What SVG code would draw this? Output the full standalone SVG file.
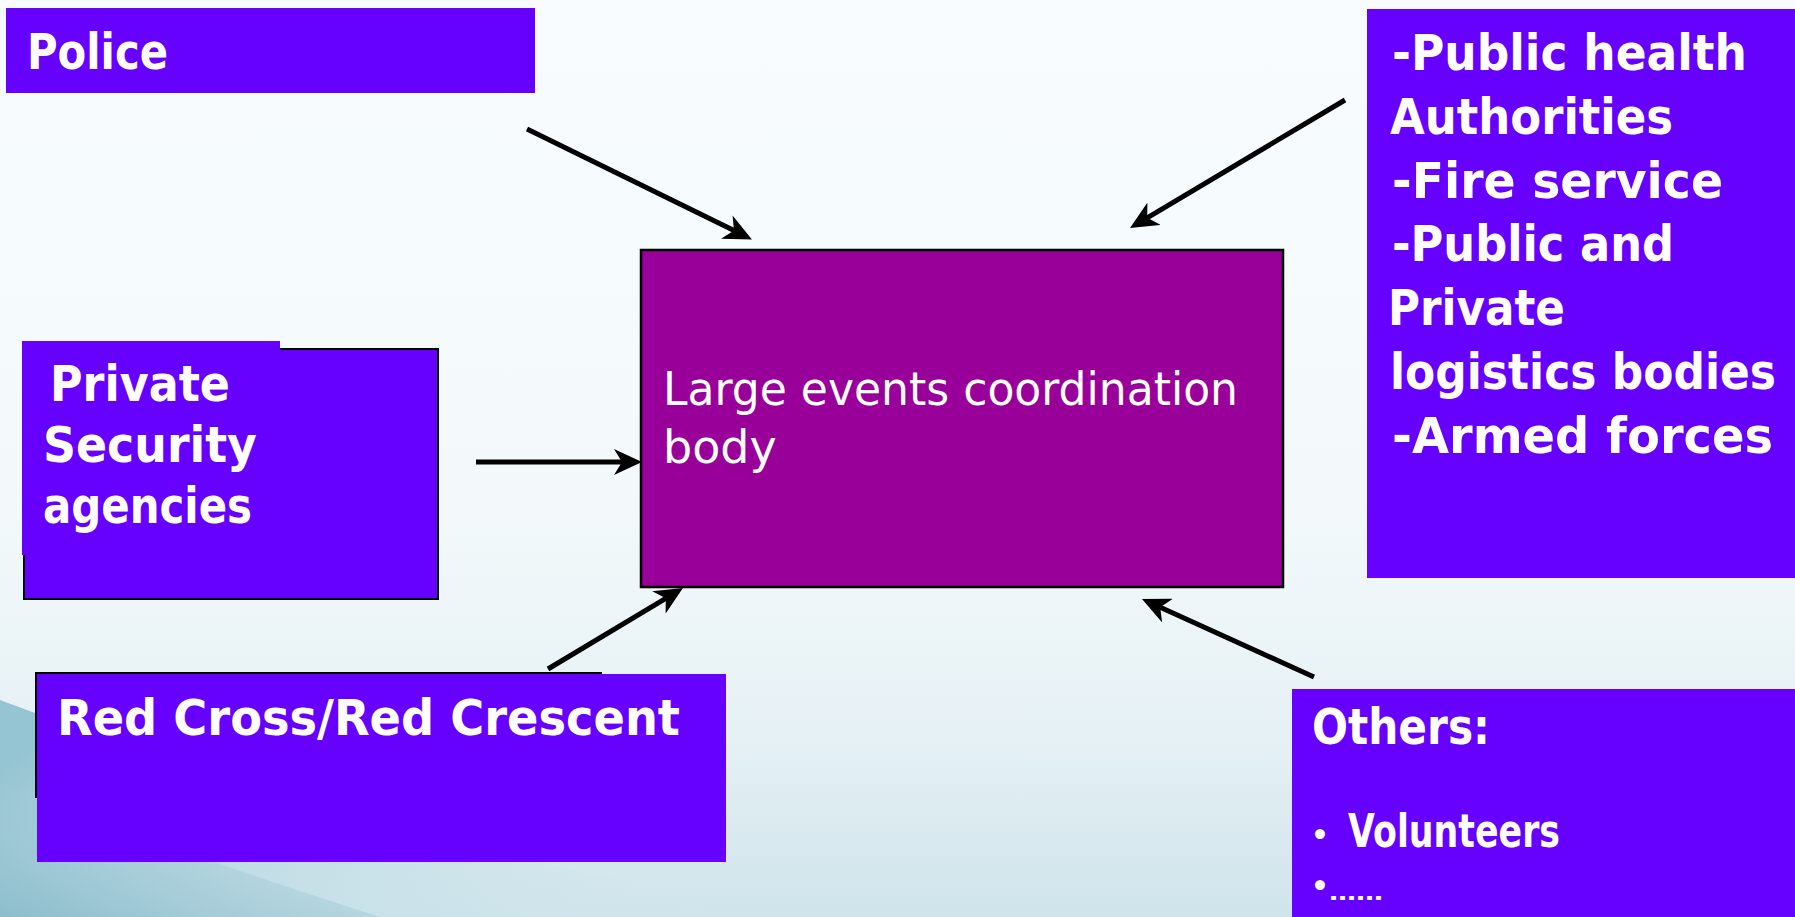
<svg xmlns="http://www.w3.org/2000/svg" width="1795" height="917" viewBox="0 0 1795 917">
  <defs>
    <linearGradient id="bg" x1="0" y1="0" x2="0" y2="1">
      <stop offset="0" stop-color="#F8FCFE"/>
      <stop offset="0.55" stop-color="#F3F9FB"/>
      <stop offset="0.8" stop-color="#E6F1F5"/>
      <stop offset="1" stop-color="#CFE4EB"/>
    </linearGradient>
    <linearGradient id="swoosh" x1="0" y1="0.3" x2="1" y2="0.7">
      <stop offset="0" stop-color="#8CBFCE" stop-opacity="0.9"/>
      <stop offset="0.5" stop-color="#B8D8E2" stop-opacity="0.5"/>
      <stop offset="1" stop-color="#D6E9EF" stop-opacity="0"/>
    </linearGradient>
    <linearGradient id="swoosh2" x1="0" y1="1" x2="0.7" y2="0">
      <stop offset="0" stop-color="#7EB4C5" stop-opacity="0.7"/>
      <stop offset="1" stop-color="#A9CFDA" stop-opacity="0"/>
    </linearGradient>
    <marker id="arrow" markerUnits="userSpaceOnUse" viewBox="0 0 28 26" refX="8" refY="13" markerWidth="28" markerHeight="26" orient="auto">
      <path d="M0,0 L28,13 L0,26 L8,13 Z" fill="#000"/>
    </marker>
  </defs>
  <style>
    .box { fill: #6600FF; }
    .bordered { fill: #6600FF; stroke: #000; stroke-width: 2; }
    .center { fill: #990099; stroke: #000; stroke-width: 2.5; }
    .lbl { font-family: "Comic Sans MS", "DejaVu Sans", sans-serif; font-weight: 700; font-size: 49px; fill: #FFFFFF; }
    .clbl { font-family: "Comic Sans MS", "DejaVu Sans", sans-serif; font-weight: 400; font-size: 46px; fill: #FFFFFF; }
    .conn { stroke: #000; stroke-width: 5; fill: none; marker-end: url(#arrow); }
  </style>

  <rect x="0" y="0" width="1795" height="917" fill="url(#bg)"/>
  <path d="M0,700 C240,790 520,870 820,917 L0,917 Z" fill="url(#swoosh)"/>
  <path d="M0,790 C150,840 280,885 380,917 L0,917 Z" fill="url(#swoosh2)"/>

  <g id="police">
    <rect class="box" x="6" y="8" width="529" height="85"/>
    <text class="lbl" x="27" y="69" textLength="141" lengthAdjust="spacingAndGlyphs">Police</text>
  </g>

  <g id="private-security">
    <rect class="bordered" x="24" y="349" width="414" height="250"/>
    <rect class="box" x="22" y="341" width="258" height="214"/>
    <text class="lbl" x="50" y="401" textLength="180" lengthAdjust="spacingAndGlyphs">Private</text>
    <text class="lbl" x="43" y="462" textLength="214" lengthAdjust="spacingAndGlyphs">Security</text>
    <text class="lbl" x="43" y="523" textLength="209" lengthAdjust="spacingAndGlyphs">agencies</text>
  </g>

  <g id="red-cross">
    <rect class="bordered" x="36" y="673" width="565" height="124"/>
    <rect class="box" x="37" y="674" width="689" height="188"/>
    <text class="lbl" x="57" y="735" textLength="623" lengthAdjust="spacingAndGlyphs">Red Cross/Red Crescent</text>
  </g>

  <g id="coordination-body">
    <rect class="center" x="641" y="250" width="642" height="337"/>
    <text class="clbl" x="663" y="405" textLength="575" lengthAdjust="spacingAndGlyphs">Large events coordination</text>
    <text class="clbl" x="663" y="463">body</text>
  </g>

  <g id="public-authorities">
    <rect class="box" x="1367" y="9" width="428" height="569"/>
    <text class="lbl" x="1392" y="70" textLength="355" lengthAdjust="spacingAndGlyphs">-Public health</text>
    <text class="lbl" x="1390" y="134" textLength="283" lengthAdjust="spacingAndGlyphs">Authorities</text>
    <text class="lbl" x="1392" y="198" textLength="331" lengthAdjust="spacingAndGlyphs">-Fire service</text>
    <text class="lbl" x="1392" y="261" textLength="282" lengthAdjust="spacingAndGlyphs">-Public and</text>
    <text class="lbl" x="1388" y="325" textLength="177" lengthAdjust="spacingAndGlyphs">Private</text>
    <text class="lbl" x="1390" y="389" textLength="386" lengthAdjust="spacingAndGlyphs">logistics bodies</text>
    <text class="lbl" x="1392" y="453" textLength="381" lengthAdjust="spacingAndGlyphs">-Armed forces</text>
  </g>

  <g id="others">
    <rect class="box" x="1292" y="689" width="503" height="228"/>
    <text class="lbl" x="1312" y="744" textLength="178" lengthAdjust="spacingAndGlyphs">Others:</text>
    <text class="lbl" x="1311" y="845" style="font-size:28px">•</text>
    <text class="lbl" x="1348" y="847" style="font-size:46px" textLength="212" lengthAdjust="spacingAndGlyphs">Volunteers</text>
    <text class="lbl" x="1311" y="896" style="font-size:28px">•</text>
    <text class="lbl" x="1329" y="900" style="font-size:22px" textLength="54" lengthAdjust="spacingAndGlyphs">……</text>
  </g>

  <g id="connectors">
    <line class="conn" x1="527" y1="129" x2="734" y2="230.6"/>
    <line class="conn" x1="1345" y1="100" x2="1147.2" y2="217.8"/>
    <line class="conn" x1="476" y1="462" x2="622" y2="462"/>
    <line class="conn" x1="548" y1="669" x2="665.8" y2="598.3"/>
    <line class="conn" x1="1314" y1="677" x2="1160.2" y2="607.3"/>
  </g>
</svg>
